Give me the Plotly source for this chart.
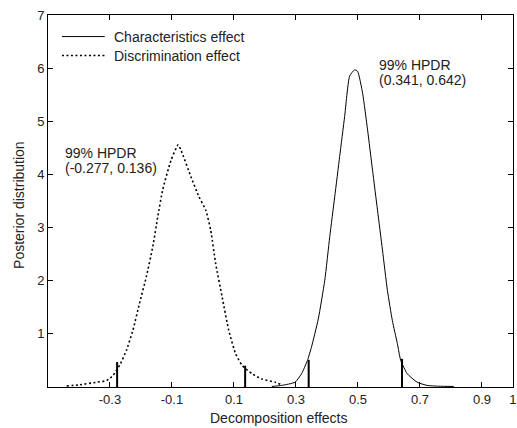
import plotly.graph_objects as go

# Characteristics effect (solid)
char_x = [0.222, 0.254, 0.297, 0.318, 0.337, 0.350, 0.372, 0.393, 0.409, 0.425, 0.441,
          0.457, 0.473, 0.489, 0.499, 0.515, 0.531, 0.547, 0.563, 0.579, 0.595, 0.611, 0.627,
          0.638, 0.659, 0.691, 0.723, 0.760, 0.809]
char_y = [0.01, 0.03, 0.09, 0.25, 0.50, 0.75, 1.28, 2.01, 2.83, 3.58, 4.34,
          5.09, 5.85, 5.97, 5.94, 5.53, 4.84, 4.08, 3.33, 2.58, 1.82, 1.25, 0.82,
          0.50, 0.25, 0.09, 0.03, 0.015, 0.01]

# Discrimination effect (dotted)
disc_x = [-0.440, -0.400, -0.343, -0.311, -0.290, -0.266, -0.247, -0.226, -0.205, -0.183,
          -0.162, -0.146, -0.130, -0.103, -0.080, -0.071, -0.039, -0.013, 0.009, 0.025,
          0.041, 0.062, 0.083, 0.105, 0.126, 0.158, 0.190, 0.233, 0.250]
disc_y = [0.02, 0.04, 0.09, 0.12, 0.22, 0.44, 0.69, 1.07, 1.57, 2.07,
          2.64, 3.20, 3.71, 4.27, 4.56, 4.46, 3.96, 3.58, 3.33, 2.95,
          2.32, 1.69, 1.07, 0.63, 0.41, 0.25, 0.15, 0.09, 0.05]

# HPDR bounds and marker heights
hpdr_x = [-0.277, 0.136, 0.341, 0.642]
hpdr_h = [0.47, 0.40, 0.51, 0.53]

series_names = ["Characteristics effect", "Discrimination effect"]
ann_left = ["99% HPDR", "(-0.277, 0.136)"]
ann_right = ["99% HPDR", "(0.341, 0.642)"]

x_tickvals = [-0.3, -0.1, 0.1, 0.3, 0.5, 0.7, 0.9, 1.0]
x_ticktext = ["-0.3", "-0.1", "0.1", "0.3", "0.5", "0.7", "0.9", "1"]
y_tickvals = [1, 2, 3, 4, 5, 6, 7]

TXT = "#222"
FONT = "Liberation Sans, Arial, sans-serif"
DOT = "2px,2.5px"
FS = 14

fig = go.Figure()
fig.add_trace(go.Scatter(x=char_x, y=char_y, mode="lines", name=series_names[0], showlegend=False,
                         line=dict(color="black", width=1, shape="spline", smoothing=0.5)))
fig.add_trace(go.Scatter(x=disc_x, y=disc_y, mode="lines", name=series_names[1], showlegend=False,
                         line=dict(color="black", width=1.6, dash=DOT, shape="spline", smoothing=0.5)))

for xv, hv in zip(hpdr_x, hpdr_h):
    fig.add_trace(go.Scatter(x=[xv, xv], y=[0, hv], mode="lines", showlegend=False,
                             line=dict(color="black", width=2), hoverinfo="skip"))

# annotations (one per line for tight spacing)
for i, t in enumerate(ann_left):
    fig.add_annotation(x=-0.451, y=4.41 - i * 0.29, xref="x", yref="y", xanchor="left",
                       yanchor="middle", text=t, showarrow=False,
                       font=dict(size=FS, color=TXT, family=FONT))
for i, t in enumerate(ann_right):
    fig.add_annotation(x=0.563, y=6.07 - i * 0.29, xref="x", yref="y", xanchor="left",
                       yanchor="middle", text=t, showarrow=False,
                       font=dict(size=FS, color=TXT, family=FONT))

# manual legend
leg_y = [0.942, 0.891]
leg_dash = ["solid", DOT]
leg_w = [1, 1.6]
for i in range(2):
    fig.add_shape(type="line", xref="paper", yref="paper", x0=0.030, x1=0.122,
                  y0=leg_y[i], y1=leg_y[i], line=dict(color="black", width=leg_w[i], dash=leg_dash[i]))
    fig.add_annotation(x=0.137, y=leg_y[i], xref="paper", yref="paper", xanchor="left",
                       yanchor="middle", text=series_names[i], showarrow=False,
                       font=dict(size=FS, color=TXT, family=FONT))

# axis titles
fig.add_annotation(x=0.495, y=-0.082, xref="paper", yref="paper", xanchor="center",
                   yanchor="middle", text="Decomposition effects", showarrow=False,
                   font=dict(size=FS, color=TXT, family=FONT))
fig.add_annotation(x=-0.064, y=0.49, xref="paper", yref="paper", xanchor="center",
                   yanchor="middle", text="Posterior distribution", showarrow=False,
                   textangle=-90, font=dict(size=FS, color=TXT, family=FONT))

fig.update_layout(
    width=517, height=428,
    margin=dict(l=48, r=4, t=15, b=41),
    paper_bgcolor="white", plot_bgcolor="white",
    font=dict(family=FONT, size=13, color=TXT),
    showlegend=False,
)
fig.update_xaxes(range=[-0.5, 1.0002], tickvals=x_tickvals, ticktext=x_ticktext,
                 ticks="inside", ticklen=5, tickcolor="black", showgrid=False, zeroline=False,
                 showline=True, linecolor="black", linewidth=1, mirror="ticks",
                 automargin=False, ticklabeloverflow="allow", tickfont=dict(size=13))
fig.update_yaxes(range=[0, 7.002], tickvals=y_tickvals,
                 ticks="inside", ticklen=5, tickcolor="black", showgrid=False, zeroline=False,
                 showline=True, linecolor="black", linewidth=1, mirror="ticks",
                 automargin=False, ticklabeloverflow="allow", tickfont=dict(size=13))

fig.write_html("out.html", config={"displayModeBar": False},
               post_script="document.body.style.margin='0';document.body.style.overflow='hidden';")
